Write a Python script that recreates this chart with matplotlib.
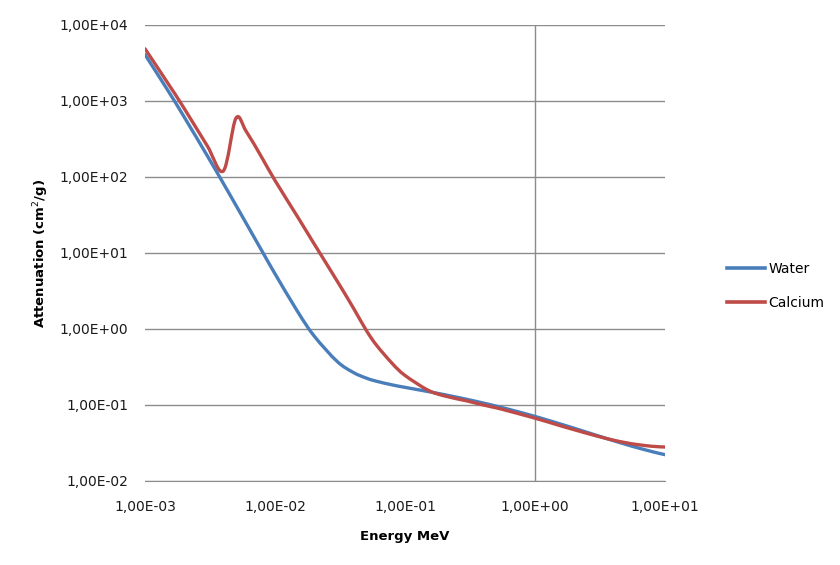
import numpy as np
import matplotlib
matplotlib.use("Agg")
import matplotlib.pyplot as plt
from matplotlib.path import Path
from matplotlib.patches import PathPatch
from matplotlib.lines import Line2D
from matplotlib.ticker import FuncFormatter, FixedLocator, NullLocator

# energy (MeV) and mass attenuation (cm2/g)
energy = [1e-3, 1.5e-3, 2e-3, 3e-3, 4e-3, 5e-3, 6e-3, 8e-3,
          1e-2, 1.5e-2, 2e-2, 3e-2, 4e-2, 5e-2, 6e-2, 8e-2,
          1e-1, 1.5e-1, 2e-1, 3e-1, 4e-1, 5e-1, 6e-1, 8e-1,
          1.0, 1.25, 1.5, 2.0, 3.0, 4.0, 5.0, 6.0, 8.0, 10.0]

water = [4078, 1376, 617.3, 192.9, 82.78, 42.58, 24.64, 10.37,
         5.329, 1.673, 0.8096, 0.3756, 0.2683, 0.2269, 0.2059, 0.1837,
         0.1707, 0.1505, 0.137, 0.1186, 0.1061, 0.09687, 0.08956, 0.07865,
         0.07072, 0.06323, 0.05754, 0.04942, 0.03969, 0.03403, 0.03031, 0.0277, 0.02429, 0.02219]

calcium = [4867, 1714, 800, 260, 120, 590, 400, 175,
           90, 29.5, 13.2, 4.3, 1.9, 0.98, 0.62, 0.35,
           0.245, 0.157, 0.132, 0.113, 0.1, 0.092, 0.085, 0.0745,
           0.067, 0.06, 0.0546, 0.0473, 0.039, 0.0345, 0.0319, 0.0303, 0.0286, 0.028]

series = [("Water", water, "#4A7EBB"), ("Calcium", calcium, "#BE4B48")]

grid_col = "#8C8C8C"


def smooth_path(xs, ys):
    # excel style smoothed line: bezier through the points (in log space)
    lx, ly = np.log10(xs), np.log10(ys)
    n = len(lx)
    verts = [(lx[0], ly[0])]
    codes = [Path.MOVETO]
    for i in range(n - 1):
        i0 = max(i - 1, 0)
        i3 = min(i + 2, n - 1)
        c1 = (lx[i] + (lx[i + 1] - lx[i0]) / 6, ly[i] + (ly[i + 1] - ly[i0]) / 6)
        c2 = (lx[i + 1] - (lx[i3] - lx[i]) / 6, ly[i + 1] - (ly[i3] - ly[i]) / 6)
        verts += [c1, c2, (lx[i + 1], ly[i + 1])]
        codes += [Path.CURVE4] * 3
    return Path(10 ** np.array(verts), codes)


fig = plt.figure(figsize=(8.4, 5.65), dpi=100)
ax = fig.add_axes([145 / 840, 1 - 481 / 565, 520 / 840, 456 / 565])
ax.set_xscale("log")
ax.set_yscale("log")
ax.set_xlim(1e-3, 1e1)
ax.set_ylim(1e-2, 1e4)

ax.yaxis.grid(True, color=grid_col, lw=1)
ax.axvline(1.0, color=grid_col, lw=1, zorder=0.5)
ax.set_axisbelow(True)

handles = []
for name, vals, col in series:
    p = PathPatch(smooth_path(energy, vals), fill=False, edgecolor=col, lw=2.4,
                  capstyle="round", joinstyle="round", zorder=3)
    ax.add_patch(p)
    handles.append(Line2D([], [], color=col, lw=2.6, label=name))

fmt = FuncFormatter(lambda v, pos: ("%.2E" % v).replace(".", ","))
ax.xaxis.set_major_locator(FixedLocator([1e-3, 1e-2, 1e-1, 1e0, 1e1]))
ax.yaxis.set_major_locator(FixedLocator([1e-2, 1e-1, 1e0, 1e1, 1e2, 1e3, 1e4]))
ax.xaxis.set_minor_locator(NullLocator())
ax.yaxis.set_minor_locator(NullLocator())
ax.xaxis.set_major_formatter(fmt)
ax.yaxis.set_major_formatter(fmt)
ax.tick_params(axis="both", length=0, labelsize=10, colors="#1a1a1a")
ax.tick_params(axis="y", pad=12)
ax.tick_params(axis="x", pad=14)

for s in ["top", "right", "left"]:
    ax.spines[s].set_visible(False)
ax.spines["bottom"].set_color(grid_col)

ax.set_xlabel("Energy MeV", fontsize=9.5, fontweight="bold", labelpad=11)
ax.set_ylabel("Attenuation (cm$^2$/g)", fontsize=9.5, fontweight="bold", labelpad=6)

fig.legend(handles=handles, loc="center left", bbox_to_anchor=(727 / 840, 1 - 286 / 565),
           bbox_transform=fig.transFigure, frameon=False, fontsize=10,
           handlelength=2.7, handletextpad=0.3, labelspacing=1.4,
           borderpad=0, borderaxespad=0)

fig.savefig("out.png", dpi=100)
